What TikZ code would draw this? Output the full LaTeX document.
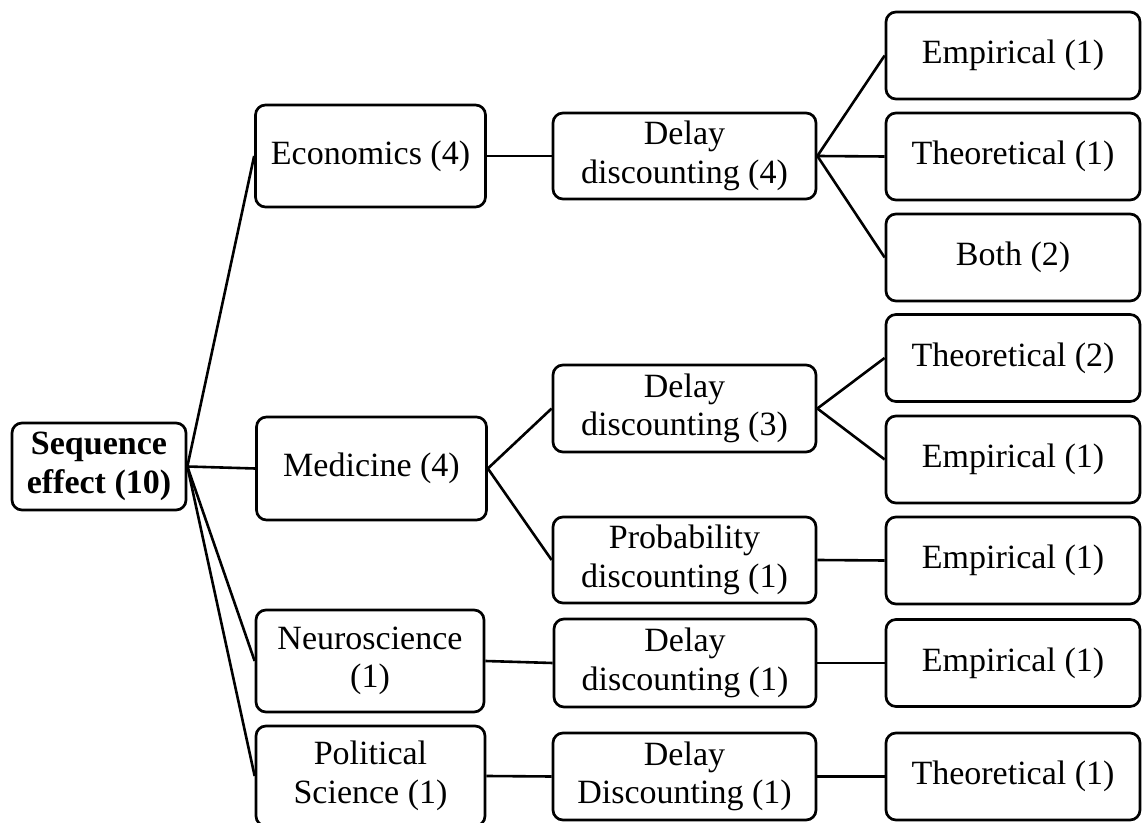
\documentclass[tikz,border=0pt]{standalone}
\usepackage{fontspec}
\setmainfont{Liberation Serif}
\begin{document}
\begin{tikzpicture}[x=0.5pt,y=-0.5pt,
  box/.style={draw, rounded corners=5pt, line width=1.35pt, align=center,
    inner sep=0pt, fill=white, font=\fontsize{17}{19.3}\selectfont},
  link/.style={line width=1.3pt}]
\useasboundingbox (0,0) rectangle (1142,823);

% root
\node[box, minimum width=87pt, minimum height=43.5pt] (root) at (99,466.5)
  {\textbf{Sequence}\\\textbf{effect (10)}};

% disciplines
\node[box, minimum width=115pt, minimum height=51pt] (eco) at (370.5,156) {Economics (4)};
\node[box, minimum width=115pt, minimum height=51.5pt] (med) at (371.5,468.5) {Medicine (4)};
\node[box, minimum width=114pt, minimum height=51pt] (neu) at (370,661) {Neuroscience\\(1)};
\node[box, minimum width=114.5pt, minimum height=50pt] (pol) at (370.5,776) {Political\\Science (1)};

% discounting types
\node[box, minimum width=131.5pt, minimum height=43pt] (dd4) at (684.5,156) {Delay\\discounting (4)};
\node[box, minimum width=131.5pt, minimum height=43.5pt] (dd3) at (684.5,408.5) {Delay\\discounting (3)};
\node[box, minimum width=131.5pt, minimum height=43pt] (pd1) at (684.5,560) {Probability\\discounting (1)};
\node[box, minimum width=131pt, minimum height=44pt] (dd1) at (685,663) {Delay\\discounting (1)};
\node[box, minimum width=131.5pt, minimum height=43.5pt] (ddp) at (684.5,776.5) {Delay\\Discounting (1)};

% study kinds
\tikzset{leaf/.style={box, minimum width=127pt, minimum height=43.5pt}}
\node[leaf] (e1) at (1013,55.5) {Empirical (1)};
\node[leaf] (t1) at (1013,156.5) {Theoretical (1)};
\node[leaf] (b2) at (1013,257.5) {Both (2)};
\node[leaf] (t2) at (1013,358) {Theoretical (2)};
\node[leaf] (e2) at (1013,459.5) {Empirical (1)};
\node[leaf] (e3) at (1013,560.5) {Empirical (1)};
\node[leaf] (e4) at (1013,663) {Empirical (1)};
\node[leaf] (t3) at (1013,776.5) {Theoretical (1)};

% connectors
\draw[link] (root.east) -- (eco.west);
\draw[link] (root.east) -- (med.west);
\draw[link] (root.east) -- (neu.west);
\draw[link] (root.east) -- (pol.west);
\draw[link] (eco.east) -- (dd4.west);
\draw[link] (med.east) -- (dd3.west);
\draw[link] (med.east) -- (pd1.west);
\draw[link] (neu.east) -- (dd1.west);
\draw[link] (pol.east) -- (ddp.west);
\draw[link] (dd4.east) -- (e1.west);
\draw[link] (dd4.east) -- (t1.west);
\draw[link] (dd4.east) -- (b2.west);
\draw[link] (dd3.east) -- (t2.west);
\draw[link] (dd3.east) -- (e2.west);
\draw[link] (pd1.east) -- (e3.west);
\draw[link] (dd1.east) -- (e4.west);
\draw[link] (ddp.east) -- (t3.west);
\end{tikzpicture}
\end{document}
